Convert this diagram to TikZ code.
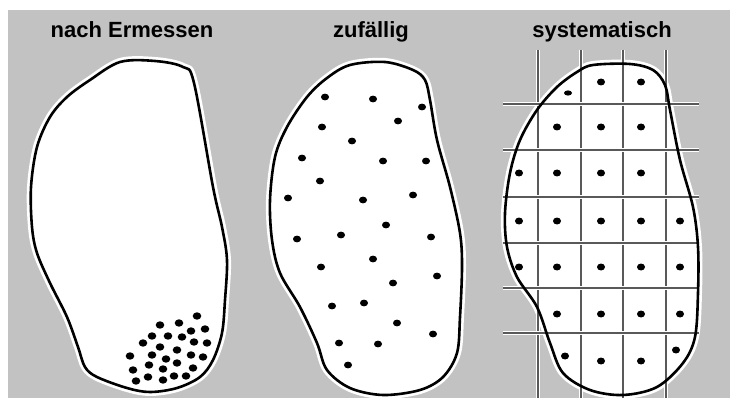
\documentclass[tikz,border=0pt]{standalone}
\usepackage{fontspec}
\setmainfont{Liberation Sans}
\begin{document}
\begin{tikzpicture}[x=1pt,y=-1pt,line join=round,
    heading/.style={font=\fontsize{22}{24}\selectfont\bfseries,inner sep=0pt,anchor=base},
    outline/.style={line width=2.6pt,black},
    halo/.style={draw=white,line width=8pt},
    gridline/.style={line width=1.4pt,black!65},
    pt/.style={black}]
  \useasboundingbox (0,0) rectangle (730,398);
  \fill[black!24] (8,10) rectangle (730,398);
% ================= (a) nach Ermessen =================
  \path[save path=\blobA] plot[smooth cycle,tension=0.55] coordinates {
      (120,62) (155,61) (183,67) (194,83) (213,187) (222,227) (227,260)
      (225,300) (222,333) (213,360) (200,377) (177,388) (150,392) (127,388)
      (97,377) (85,367) (78,347) (67,317) (50,283) (37,253) (32,227)
      (31,187) (37,147) (50,117) (67,97) (90,80)};
  \path[use path=\blobA,fill=white,halo];
  \path[use path=\blobA,draw,outline];
  \foreach \x/\y in {197/316,160/325,179/323,191/331,205/329,152/336,168/336,
      182/337,143/343,160/347,194/342,207/343,177/350,130/356,152/355,166/359,
      191/355,203/357,149/365,177/363,133/370,163/369,193/368,148/377,174/376,
      186/376,136/381,163/380}
    \fill[pt] (\x,\y) ellipse (4.3 and 3.7);
  \node[heading] (ermessen) at (132,38) {nach Ermessen};
% ================= (b) zufaellig =================
  \path[save path=\blobB] plot[smooth cycle,tension=0.55] coordinates {
      (350,65) (385,62) (413,70) (425,80) (430,100) (437,140) (450,187)
      (460,233) (462,267) (460,317) (457,353) (443,377) (420,390) (383,395)
      (350,388) (327,370) (317,343) (300,307) (280,273) (272,240) (270,200)
      (275,157) (287,127) (307,97) (327,78)};
  \path[use path=\blobB,fill=white,halo];
  \path[use path=\blobB,draw,outline];
  \foreach \x/\y in {325/97,373/99,422/107,398/121,322/127,352/141,302/158,
      383/161,426/161,320/181,288/198,363/200,413/195,386/225,297/239,341/235,
      431/237,373/259,321/267,437/276,393/283,332/306,364/303,397/323,433/334,
      339/343,378/344,348/365}
    \fill[pt] (\x,\y) ellipse (4.0 and 3.4);
  \node[heading] (zufall) at (371,38) {zufällig};
% ================= (c) systematisch =================
  \path[save path=\blobC] plot[smooth cycle,tension=0.55] coordinates {
      (593,65) (630,64) (653,70) (665,85) (670,110) (680,160) (693,207)
      (698,247) (698,293) (695,337) (683,363) (657,387) (623,395) (590,390)
      (563,373) (550,343) (537,307) (517,277) (507,247) (505,213) (510,173)
      (520,140) (537,110) (557,87) (577,72)};
  \path[use path=\blobC,fill=white,halo];
  % the grid
  \foreach \p in {538,581,623,666}{
      \draw[white,line width=4pt] (\p,50) -- (\p,398);
      \draw[gridline] (\p,50) -- (\p,398);}
  \foreach \q in {104,150,197,243,288,333}{
      \draw[white,line width=4pt] (503,\q) -- (699,\q);
      \draw[gridline] (503,\q) -- (699,\q);}
  \path[use path=\blobC,draw,outline];
  \foreach \x/\y in {601/82,641/82,557/127,601/127,641/127,
      519/173,557/173,601/173,641/173,
      519/221,557/221,601/221,641/221,680/221,
      519/267,557/267,601/267,641/267,680/267,
      557/314,601/314,641/314,680/314,
      565/356,601/361,641/361,676/350}
    \fill[pt] (\x,\y) ellipse (4.0 and 3.5);
  \fill[pt] (568,93) ellipse (4.0 and 2.6);
  \node[heading] (system) at (602,38) {systematisch};
\end{tikzpicture}
\end{document}
